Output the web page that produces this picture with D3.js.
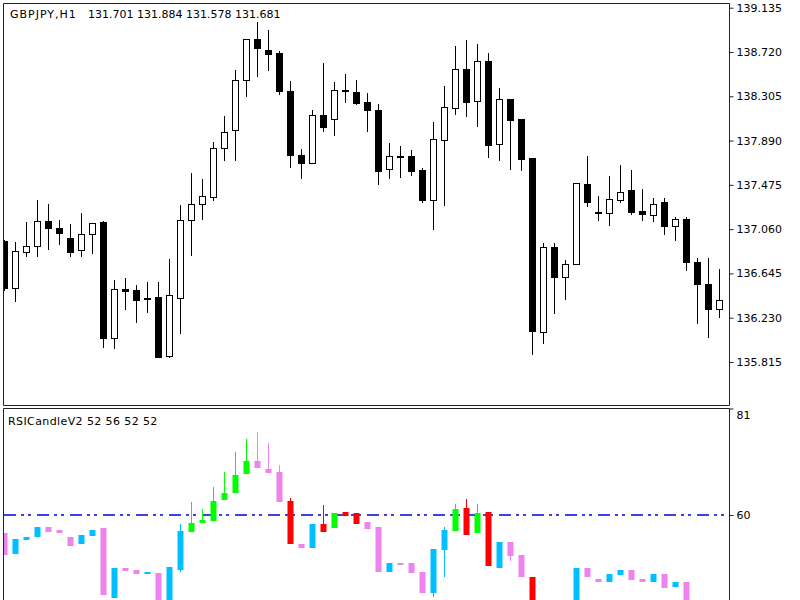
<!DOCTYPE html>
<html>
<head>
<meta charset="utf-8">
<script src="https://cdn.jsdelivr.net/npm/d3@7"></script>
<style>
  body { margin: 0; background: #fff; }
  svg { display: block; font-family: 'DejaVu Sans', sans-serif; }
</style>
</head>
<body>
<div id="chart"></div>
<script>
// GBPJPY H1 candles
const open = [136.947,136.507,136.847,136.903,137.136,137.071,136.981,136.862,137.019,137.127,
  136.042,136.495,136.488,136.418,136.420,135.874,136.416,137.150,137.299,137.361,
  137.819,137.985,138.459,138.842,138.742,138.708,138.359,137.751,137.683,138.125,
  138.088,138.368,138.343,138.256,138.178,137.620,137.746,137.744,137.611,137.337,
  137.891,138.197,138.562,138.265,138.639,137.854,138.281,138.094,137.729,136.093,
  136.888,136.607,136.738,137.486,137.224,137.211,137.330,137.424,137.227,137.190,
  137.314,137.087,137.159,136.753,136.542,136.311];
const high = [136.956,136.940,137.124,137.330,137.293,137.150,137.112,137.211,137.121,137.136,
  136.588,136.598,136.535,136.560,136.560,136.778,137.283,137.589,137.526,137.875,
  138.116,138.552,138.842,138.998,138.926,138.733,138.452,137.807,138.181,138.618,
  138.443,138.515,138.462,138.333,138.228,137.870,137.835,137.798,137.636,138.062,
  138.399,138.773,138.836,138.796,138.708,138.384,138.281,138.094,137.729,136.931,
  136.931,136.769,137.496,137.744,137.370,137.555,137.664,137.611,137.433,137.349,
  137.355,137.174,137.174,136.785,136.790,136.685];
const low = [136.488,136.388,136.809,136.809,136.872,136.925,136.809,136.809,136.832,135.958,
  135.943,136.308,136.192,136.280,135.859,135.865,136.089,136.822,137.159,137.330,
  137.711,137.711,138.312,138.493,138.555,138.328,137.642,137.542,137.683,137.978,
  137.938,138.249,138.234,137.978,137.480,137.542,137.548,137.564,137.314,137.065,
  137.283,138.141,138.118,138.031,137.735,137.711,137.620,137.611,135.890,135.990,
  136.270,136.401,136.738,137.274,137.143,137.096,137.314,137.199,137.150,137.136,
  137.019,136.956,136.675,136.183,136.052,136.239];
const close = [136.507,136.853,136.903,137.136,137.071,137.028,136.847,137.019,137.121,136.042,
  136.495,136.479,136.395,136.409,135.859,136.442,137.150,137.299,137.367,137.819,
  137.969,138.459,138.842,138.754,138.702,138.352,137.751,137.683,138.125,138.016,
  138.368,138.362,138.244,138.172,137.604,137.744,137.742,137.604,137.337,137.907,
  138.203,138.562,138.249,138.639,137.844,138.281,138.085,137.720,136.108,136.888,
  136.607,136.738,137.496,137.314,137.218,137.339,137.408,137.221,137.199,137.299,
  137.087,137.159,136.753,136.542,136.311,136.395];

// RSICandleV2 candles
const rsiOpen = [56.51,52.31,55.07,55.61,57.69,57.04,55.72,54.23,55.86,57.38,
  43.63,49.49,49.15,48.31,48.62,41.66,49.15,56.70,58.37,58.82,
  62.96,64.28,68.08,70.65,69.01,68.54,62.82,54.28,53.44,58.17,
  57.49,60.54,60.34,58.68,57.69,48.70,50.59,50.59,48.70,44.68,
  53.10,56.90,61.44,56.39,60.54,49.61,54.62,52.11,47.83,34.0,
  41.0,37.0,40.0,49.49,47.32,46.85,48.17,49.15,47.32,46.85,
  48.37,45.86,46.85,41.0,38.5,36.0];
const rsiHigh = [56.51,55.21,55.72,57.69,57.69,57.04,55.72,56.06,57.04,57.38,
  49.49,49.49,49.15,48.70,48.62,49.80,58.23,62.51,61.13,65.47,
  68.42,72.48,74.93,76.31,74.25,69.86,63.30,54.28,58.17,61.97,
  60.34,60.54,60.34,58.68,57.69,50.59,50.59,50.59,48.70,53.30,
  57.69,62.17,63.10,62.17,60.54,54.62,54.62,52.11,47.83,41.0,
  41.0,39.5,49.49,49.49,47.32,48.37,49.15,49.15,47.32,48.37,
  48.37,46.85,46.85,41.0,38.5,37.5];
const rsiLow = [52.11,52.31,55.07,55.61,56.70,56.39,53.89,54.23,55.86,44.22,
  43.63,49.01,48.31,48.31,41.27,41.66,48.82,56.70,58.37,58.82,
  62.96,64.28,68.08,69.21,68.34,62.62,54.23,53.44,53.44,56.70,
  57.49,59.86,58.23,57.24,48.82,48.70,50.34,48.51,44.68,43.77,
  47.72,56.90,56.06,56.39,49.94,49.61,50.93,47.72,39.0,34.0,
  37.0,37.0,40.0,47.72,46.85,46.85,48.17,47.18,46.85,46.85,
  45.55,45.86,41.0,38.5,36.0,36.0];
const rsiClose = [52.11,55.21,55.72,57.69,56.70,56.39,53.89,56.06,57.04,44.22,
  49.49,49.01,48.31,48.70,41.27,49.80,56.84,58.37,59.01,62.76,
  64.39,67.89,70.65,69.21,68.34,62.62,54.23,53.44,58.17,56.70,
  60.34,59.86,58.23,57.24,48.82,50.59,50.34,48.51,44.68,53.30,
  57.04,61.13,56.06,60.45,49.94,54.62,51.97,47.72,39.0,41.0,
  37.0,39.5,49.49,47.72,46.85,48.37,49.15,47.18,46.85,48.37,
  45.55,46.85,41.0,38.5,36.0,37.5];
// b = up, v = down, g = strong up, r = strong down
const rsiColor = ['v','b','b','b','v','v','v','b','b','v',
  'b','v','v','b','v','b','b','g','g','g',
  'g','g','g','v','v','v','r','v','b','r',
  'g','r','r','v','v','b','v','v','v','b',
  'b','g','r','g','r','b','v','v','r','b',
  'v','b','b','v','v','b','b','v','v','b',
  'v','b','v','v','v','b'];

const priceTicks = [139.135, 138.720, 138.305, 137.890, 137.475, 137.060, 136.645, 136.230, 135.815];
const rsiTicks = [81, 60];
const rsiLevel = 60;
const headerName = 'GBPJPY,H1';
const headerValues = '131.701 131.884 131.578 131.681';
const rsiTitle = 'RSICandleV2 52 56 52 52';

const palette = { b: '#00BFFF', v: '#EE82EE', g: '#00FF00', r: '#FF0000' };

const width = 800, height = 600;
const left = 4, axisX = 729;
const topPane = [4, 405];
const rsiPane = [409, 600];

const svg = d3.select('#chart').append('svg')
  .attr('width', width).attr('height', height);

const x = d3.scaleLinear().domain([0, open.length - 1]).range([4, 719]);
const y = d3.scaleLinear().domain([135.815, 139.135]).range([362, 7.7]);
const ry = d3.scaleLinear().domain([60, 81]).range([515, 408.5]);

const defs = svg.append('defs');
defs.append('clipPath').attr('id', 'clipTop').append('rect')
  .attr('x', left).attr('y', topPane[0]).attr('width', axisX - left).attr('height', topPane[1] - topPane[0]);
defs.append('clipPath').attr('id', 'clipRsi').append('rect')
  .attr('x', left).attr('y', rsiPane[0]).attr('width', axisX - left).attr('height', rsiPane[1] - rsiPane[0]);

const idx = d3.range(open.length);

// price candles
const gTop = svg.append('g').attr('clip-path', 'url(#clipTop)');
gTop.selectAll('.wick').data(idx).join('line')
  .attr('x1', i => Math.round(x(i)) + 0.5).attr('x2', i => Math.round(x(i)) + 0.5)
  .attr('y1', i => Math.round(y(high[i]))).attr('y2', i => Math.round(y(low[i])) + 1)
  .attr('stroke', '#000').attr('stroke-width', 1);

gTop.selectAll('.body').data(idx).join('rect')
  .each(function (i) {
    const cx = Math.round(x(i));
    const t = Math.round(y(Math.max(open[i], close[i])));
    const b = Math.round(y(Math.min(open[i], close[i])));
    const el = d3.select(this);
    if (close[i] >= open[i]) {
      el.attr('x', cx - 2.5).attr('y', t + 0.5).attr('width', 6).attr('height', Math.max(b - t, 1))
        .attr('fill', '#fff').attr('stroke', '#000').attr('stroke-width', 1);
    } else {
      el.attr('x', cx - 3).attr('y', t).attr('width', 7).attr('height', Math.max(b - t + 1, 2))
        .attr('fill', '#000');
    }
  });

// RSI candles
const gRsi = svg.append('g').attr('clip-path', 'url(#clipRsi)');
gRsi.append('line')
  .attr('x1', left).attr('x2', axisX).attr('y1', ry(rsiLevel)).attr('y2', ry(rsiLevel))
  .attr('stroke', '#0000E0').attr('stroke-width', 1.6).attr('stroke-dasharray', '12,5,3,4,3,6');

gRsi.selectAll('.rwick').data(idx).join('line')
  .attr('x1', i => Math.round(x(i)) + 0.5).attr('x2', i => Math.round(x(i)) + 0.5)
  .attr('y1', i => Math.round(ry(rsiHigh[i]))).attr('y2', i => Math.round(ry(rsiLow[i])))
  .attr('stroke', i => palette[rsiColor[i]]).attr('stroke-width', 1);

gRsi.selectAll('.rbody').data(idx).join('rect')
  .attr('x', i => Math.round(x(i)) - 2.5)
  .attr('y', i => Math.round(ry(Math.max(rsiOpen[i], rsiClose[i]))))
  .attr('width', 6)
  .attr('height', i => Math.max(Math.round(ry(Math.min(rsiOpen[i], rsiClose[i]))) - Math.round(ry(Math.max(rsiOpen[i], rsiClose[i]))), 2))
  .attr('fill', i => palette[rsiColor[i]]);

// pane frames
const frame = svg.append('g').attr('stroke', '#222').attr('stroke-width', 1).attr('fill', 'none');
frame.append('path').attr('d', `M${left - 0.5},${topPane[1] + 0.5}V3.5H${axisX + 0.5}V${topPane[1] + 0.5}H${left - 0.5}`);
frame.append('path').attr('d', `M${left - 0.5},${height}V${rsiPane[0] - 0.5}H${axisX + 0.5}V${height}`);

// axes
const priceAxis = d3.axisRight(y).tickValues(priceTicks).tickFormat(d3.format('.3f'))
  .tickSize(4).tickPadding(3);
const gpa = svg.append('g').attr('transform', `translate(${axisX + 0.5},0)`).call(priceAxis);
gpa.select('.domain').remove();

const rsiAxis = d3.axisRight(ry).tickValues(rsiTicks).tickFormat(d3.format('d'))
  .tickSize(4).tickPadding(3);
const gra = svg.append('g').attr('transform', `translate(${axisX + 0.5},0)`).call(rsiAxis);
gra.select('.domain').remove();
gra.selectAll('.tick text').filter(d => d === 81).attr('dy', '0.95em');

svg.selectAll('.tick line').attr('stroke', '#222');
svg.selectAll('.tick text').attr('fill', '#000').style('font-size', '11px').style('font-family', 'DejaVu Sans');

// titles
svg.append('text').attr('x', 10).attr('y', 18).style('font-size', '11px')
  .style('letter-spacing', '1px').text(headerName);
svg.append('text').attr('x', 88).attr('y', 18).style('font-size', '11px').text(headerValues);
svg.append('text').attr('x', 8).attr('y', 425).style('font-size', '11px')
  .style('letter-spacing', '0.4px').text(rsiTitle);
</script>
</body>
</html>
